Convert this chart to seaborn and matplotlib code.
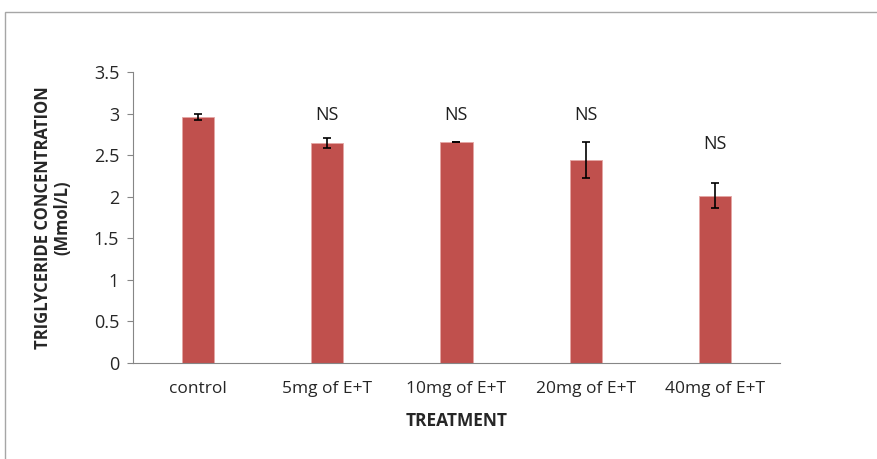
import numpy as np
import pandas as pd
import seaborn as sns
import matplotlib.pyplot as plt
from matplotlib.patches import Rectangle

# Datos
treatments = ['control', '5mg of E+T', '10mg of E+T', '20mg of E+T', '40mg of E+T']
triglyceride = [2.96, 2.64, 2.66, 2.44, 2.01]
errors = [0.04, 0.06, 0.0, 0.22, 0.15]
ns_labels = ['', 'NS', 'NS', 'NS', 'NS']
ns_heights = [0, 2.98, 2.98, 2.98, 2.63]
yticks = [0, 0.5, 1, 1.5, 2, 2.5, 3, 3.5]

df = pd.DataFrame({'treatment': treatments, 'tg': triglyceride})

sns.set_style('white')
plt.rcParams['font.family'] = ['Open Sans', 'DejaVu Sans']

fig = plt.figure(figsize=(8.78, 4.59), dpi=100)
ax = fig.add_axes([0.1515, 0.2092, 0.7365, 0.634])

# Marco exterior del gráfico
fig.patches.append(Rectangle((0.0057, -0.1), 1.2, 1.0742, transform=fig.transFigure,
                             fill=False, edgecolor='#a6a6a6', linewidth=1.0))

sns.barplot(data=df, x='treatment', y='tg', color='#C0504D', saturation=1,
            width=0.25, edgecolor='#e4a6a4', linewidth=0.6, ax=ax)
ax.errorbar(np.arange(len(treatments)), triglyceride, yerr=errors, fmt='none',
            ecolor='black', elinewidth=1.2, capsize=3, capthick=1.2)

for i, (lab, h) in enumerate(zip(ns_labels, ns_heights)):
    if lab:
        ax.text(i, h, lab, ha='center', va='center', fontsize=13, color='#1f1f1f')

ax.set_ylim(0, 3.5)
ax.set_yticks(yticks)
ax.set_yticklabels([f'{t:g}' for t in yticks], fontsize=13)
ax.set_xlim(-0.5, len(treatments) - 0.5)
ax.tick_params(axis='x', length=0, labelsize=12.5, pad=13)
ax.tick_params(axis='y', length=4, width=0.8, color='#868686', pad=6, left=True)

ax.set_xlabel('TREATMENT', fontsize=12.5, fontweight='bold', labelpad=11)
ax.set_ylabel('TRIGLYCERIDE CONCENTRATION\n(Mmol/L)', fontsize=12, fontweight='bold',
              labelpad=16, linespacing=1.1)

for s in ['top', 'right']:
    ax.spines[s].set_visible(False)
for s in ['left', 'bottom']:
    ax.spines[s].set_color('#868686')
    ax.spines[s].set_linewidth(0.8)

fig.savefig('out.png', dpi=100)
